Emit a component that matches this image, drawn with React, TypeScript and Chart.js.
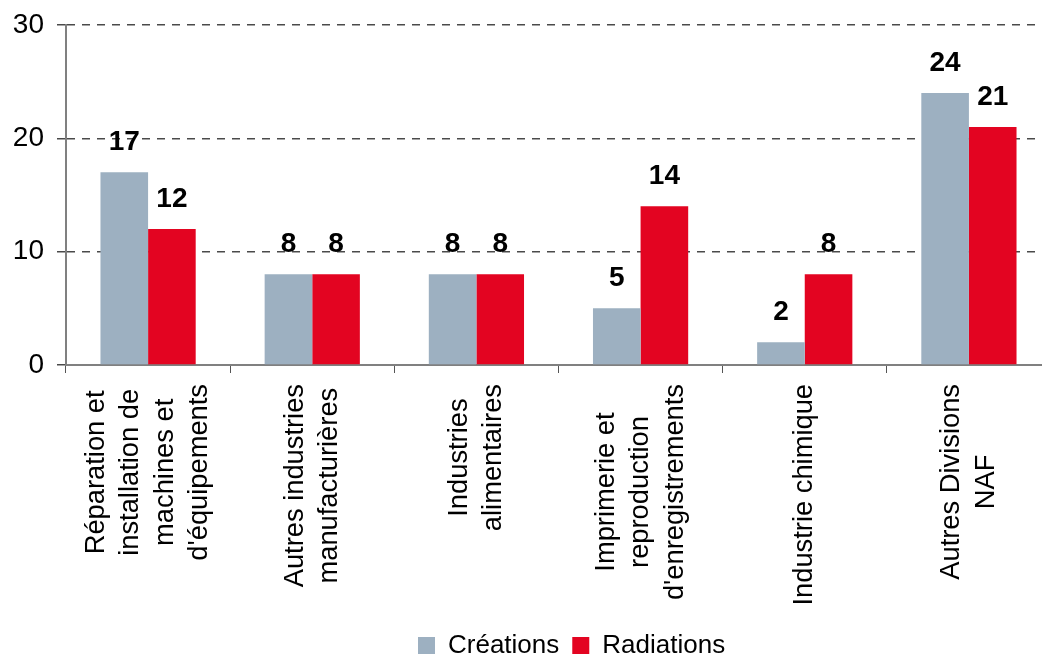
import React, { useEffect, useRef } from 'react';
import { Chart, registerables } from 'chart.js';

Chart.register(...registerables);

const FONT = '"Liberation Sans", Arial, Helvetica, sans-serif';

const categories: string[][] = [
  ['Réparation et', 'installation de', 'machines et', "d'équipements"],
  ['Autres industries', 'manufacturières'],
  ['Industries', 'alimentaires'],
  ['Imprimerie et', 'reproduction', "d'enregistrements"],
  ['Industrie chimique'],
  ['Autres Divisions', 'NAF'],
];
const seriesNames = ['Créations', 'Radiations'];
const creations = [17, 8, 8, 5, 2, 24];
const radiations = [12, 8, 8, 14, 8, 21];
const yMin = 0;
const yMax = 30;
const yStep = 10;

const colors = ['#9DB0C1', '#E30421'];

const valueLabels = {
  id: 'valueLabels',
  afterDatasetsDraw(chart: any) {
    const ctx = chart.ctx;
    ctx.save();
    ctx.font = `bold 28px ${FONT}`;
    ctx.fillStyle = '#000';
    ctx.textAlign = 'center';
    ctx.textBaseline = 'middle';
    chart.data.datasets.forEach((ds: any, di: number) => {
      const meta = chart.getDatasetMeta(di);
      meta.data.forEach((bar: any, i: number) => {
        ctx.fillText(String(ds.data[i]), bar.x, bar.y - 30);
      });
    });
    ctx.restore();
  },
};

const xLabels = {
  id: 'xLabels',
  afterDraw(chart: any) {
    const scale = chart.scales.x;
    const ctx = chart.ctx;
    ctx.save();
    ctx.font = `27.3px ${FONT}`;
    ctx.fillStyle = '#000';
    ctx.textAlign = 'center';
    ctx.textBaseline = 'middle';
    const lineH = 34.5;
    categories.forEach((lines, i) => {
      const x = scale.getPixelForValue(i);
      const maxW = Math.max(...lines.map((l) => ctx.measureText(l).width));
      ctx.save();
      ctx.translate(x, scale.top + 19);
      ctx.rotate(-Math.PI / 2);
      lines.forEach((l, j) => {
        ctx.fillText(l, -maxW / 2, (j - (lines.length - 1) / 2) * lineH);
      });
      ctx.restore();
    });
    ctx.restore();
  },
};

const legendPlace = {
  id: 'legendPlace',
  afterLayout(chart: any) {
    const lg = chart.legend;
    if (!lg || !lg.lineWidths) return;
    const pad = lg.options.labels.padding;
    const start = (lg.left + pad + lg.right - lg.lineWidths[0]) / 2;
    const dx = 418 - start;
    const dy = 637 - (lg.top + pad + 4.5);
    lg.left += dx;
    lg.right += dx;
    lg.top += dy;
    lg.bottom += dy;
  },
};

export default function App() {
  const ref = useRef<HTMLCanvasElement | null>(null);

  useEffect(() => {
    if (!ref.current) return;
    const chart = new Chart(ref.current, {
      type: 'bar',
      data: {
        labels: categories.map((c) => c.join(' ')),
        datasets: [
          {
            label: seriesNames[0],
            data: creations,
            backgroundColor: colors[0],
            borderWidth: 0,
            categoryPercentage: 0.58,
            barPercentage: 1,
          },
          {
            label: seriesNames[1],
            data: radiations,
            backgroundColor: colors[1],
            borderWidth: 0,
            categoryPercentage: 0.58,
            barPercentage: 1,
          },
        ],
      },
      options: {
        responsive: false,
        animation: false,
        layout: { padding: { top: 25, right: 9, left: 0, bottom: 0 } },
        plugins: {
          tooltip: { enabled: false },
          legend: {
            position: 'bottom',
            labels: {
              boxWidth: 17,
              boxHeight: 17,
              padding: 13,
              color: '#000',
              font: { family: FONT, size: 26 },
            },
          },
        },
        scales: {
          x: {
            grid: {
              display: true,
              drawOnChartArea: false,
              drawTicks: true,
              tickLength: 8,
              tickColor: '#555',
              tickWidth: 1,
              offset: true,
            },
            border: { display: true, color: '#808080', width: 2 },
            ticks: { display: false },
            afterFit(scale: any) {
              const lgH = scale.chart.legend ? scale.chart.legend.height : 0;
              scale.height = scale.chart.height - 365 - lgH;
            },
          },
          y: {
            min: yMin,
            max: yMax,
            grid: {
              color: '#4a4a4a',
              lineWidth: 1.5,
              drawTicks: true,
              tickLength: 9,
              tickColor: '#4a4a4a',
              tickWidth: 1.5,
            },
            border: { display: true, color: '#808080', width: 2, dash: [8, 7] },
            ticks: {
              stepSize: yStep,
              padding: 13,
              color: '#000',
              font: { family: FONT, size: 28 },
            },
            afterFit(scale: any) {
              scale.width = 66;
              scale.paddingTop = 0;
              scale.paddingBottom = 0;
            },
          },
        },
      },
      plugins: [valueLabels, xLabels, legendPlace],
    } as any);
    return () => chart.destroy();
  }, []);

  return (
    <div
      style={{
        position: 'absolute',
        left: 0,
        top: 0,
        width: 1042,
        height: 655,
        overflow: 'hidden',
        background: '#fff',
      }}
    >
      <canvas ref={ref} width={1060} height={655} />
    </div>
  );
}
